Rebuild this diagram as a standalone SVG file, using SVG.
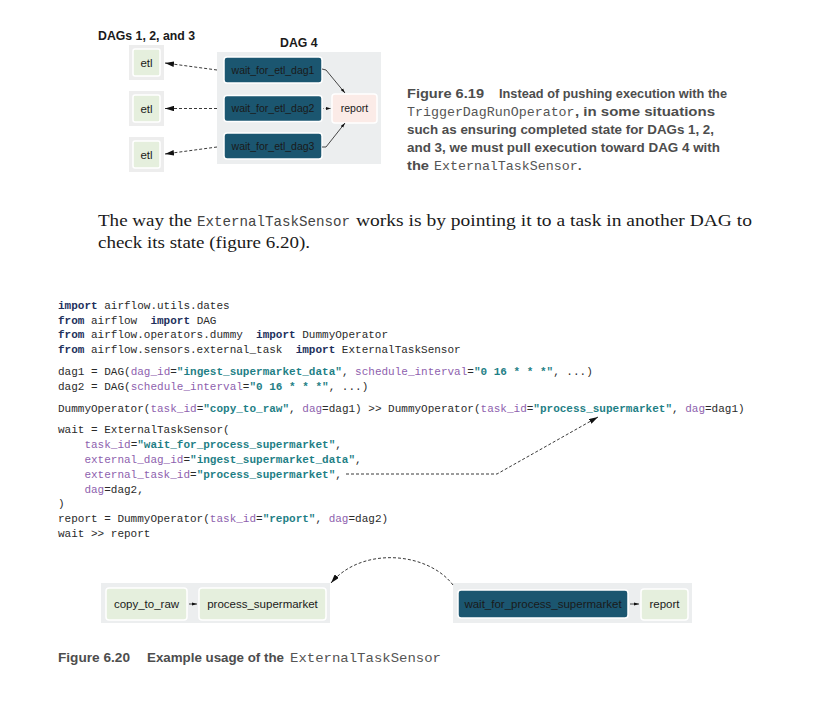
<svg xmlns="http://www.w3.org/2000/svg" width="821" height="710" viewBox="0 0 821 710">
<style>
.bg{fill:#ffffff}
.panel{fill:#eceeef}
.etlouter{fill:#ededed}
.green{fill:#e5efdd;stroke:#ffffff;stroke-width:1.5}
.dark{fill:#1b5670;stroke:#ffffff;stroke-width:1.5}
.pink{fill:#fbebe7;stroke:#ffffff;stroke-width:1.5}
.nt{font-family:"Liberation Sans",Arial,sans-serif;font-size:10.5px;fill:#1a1a1a;text-anchor:middle}
.ne{font-family:"Liberation Sans",Arial,sans-serif;font-size:11.5px;fill:#1a1a1a;text-anchor:middle}
.nb{font-family:"Liberation Sans",Arial,sans-serif;font-size:11.5px;fill:#1a1a1a;text-anchor:middle}
.hd{font-family:"Liberation Sans",Arial,sans-serif;font-size:12.3px;font-weight:bold;fill:#1a1a1a}
.cap{font-family:"Liberation Sans",Arial,sans-serif;font-size:12.5px;font-weight:bold;fill:#4d4d4d}
.capm{font-family:"Liberation Mono","Courier New",monospace;font-size:13.3px;fill:#555555}
.body{font-family:"Liberation Serif","Times New Roman",serif;font-size:16px;fill:#1a1a1a}
.bodym{font-family:"Liberation Mono","Courier New",monospace;font-size:14.4px;fill:#444444}
.code{font-family:"Liberation Mono","Courier New",monospace;font-size:11px;fill:#2a2a2a;white-space:pre}
.k{font-weight:bold;fill:#22305c}
.s{font-weight:bold;fill:#1f7f86}
.p{fill:#8e5fae}
.dash{fill:none;stroke:#222222;stroke-width:0.9;stroke-dasharray:3 2}
.solid{fill:none;stroke:#333333;stroke-width:0.9}
.dot{fill:none;stroke:#888888;stroke-width:0.9;stroke-dasharray:1 1.5}
</style>
<defs>
<marker id="ah" viewBox="0 0 10 6" refX="10" refY="3" markerWidth="9" markerHeight="5.4" markerUnits="userSpaceOnUse" orient="auto">
<path d="M0,0 L10,3 L0,6 z" fill="#111111"/>
</marker>
<marker id="ahs" viewBox="0 0 10 6" refX="10" refY="3" markerWidth="5" markerHeight="3.6" markerUnits="userSpaceOnUse" orient="auto">
<path d="M0,0 L10,3 L0,6 z" fill="#111111"/>
</marker>
</defs>
<rect class="bg" x="0" y="0" width="821" height="710"/>

<!-- Figure 6.19 -->
<text class="hd" x="98" y="39.5">DAGs 1, 2, and 3</text>
<text class="hd" x="280" y="47">DAG 4</text>

<g id="etl1"><rect class="etlouter" x="129" y="45" width="35" height="35"/><rect class="green" x="133" y="49" width="27" height="27" rx="2"/><text class="ne" x="146.5" y="66.5">etl</text></g>
<g id="etl2"><rect class="etlouter" x="129" y="91" width="35" height="35"/><rect class="green" x="133" y="95" width="27" height="27" rx="2"/><text class="ne" x="146.5" y="112.5">etl</text></g>
<g id="etl3"><rect class="etlouter" x="129" y="137" width="35" height="35"/><rect class="green" x="133" y="141" width="27" height="27" rx="2"/><text class="ne" x="146.5" y="158.5">etl</text></g>

<g id="dag4"><rect class="panel" x="217" y="52" width="164" height="112"/></g>
<g id="wait_for_etl_dag1"><rect class="dark" x="224" y="57" width="98" height="26" rx="3"/><text class="nt" x="273" y="73.8">wait_for_etl_dag1</text></g>
<g id="wait_for_etl_dag2"><rect class="dark" x="224" y="95.5" width="98" height="26" rx="3"/><text class="nt" x="273" y="112.3">wait_for_etl_dag2</text></g>
<g id="wait_for_etl_dag3"><rect class="dark" x="224" y="133" width="98" height="26" rx="3"/><text class="nt" x="273" y="149.8">wait_for_etl_dag3</text></g>
<g id="report4"><rect class="pink" x="332" y="94" width="45" height="29" rx="3"/><text class="nt" x="354.5" y="112">report</text></g>

<g id="caption619">
<text class="cap" x="407" y="97.5" textLength="77" lengthAdjust="spacingAndGlyphs">Figure 6.19</text>
<text class="cap" x="499" y="97.5" textLength="228" lengthAdjust="spacingAndGlyphs">Instead of pushing execution with the</text>
<text class="capm" x="407" y="115.5">TriggerDagRunOperator</text>
<text class="cap" x="575" y="115.5" textLength="140" lengthAdjust="spacingAndGlyphs">, in some situations</text>
<text class="cap" x="407" y="133.5" textLength="307" lengthAdjust="spacingAndGlyphs">such as ensuring completed state for DAGs 1, 2,</text>
<text class="cap" x="407" y="151.5" textLength="313" lengthAdjust="spacingAndGlyphs">and 3, we must pull execution toward DAG 4 with</text>
<text class="cap" x="407" y="169.5" textLength="22" lengthAdjust="spacingAndGlyphs">the</text>
<text class="capm" x="434" y="169.5">ExternalTaskSensor</text>
<text class="cap" x="578" y="169.5">.</text>
</g>

<!-- Body paragraph -->
<g id="paragraph">
<text class="body" x="98" y="226" textLength="94" lengthAdjust="spacingAndGlyphs">The way the</text>
<text class="bodym" x="197" y="226" textLength="153" lengthAdjust="spacingAndGlyphs">ExternalTaskSensor</text>
<text class="body" x="356" y="226" textLength="396" lengthAdjust="spacingAndGlyphs">works is by pointing it to a task in another DAG to</text>
<text class="body" x="98" y="248" textLength="212" lengthAdjust="spacingAndGlyphs">check its state (figure 6.20).</text>
</g>

<!-- Code -->
<g id="code" xml:space="preserve">
<text class="code" x="58" y="309"><tspan class="k">import</tspan> airflow.utils.dates</text>
<text class="code" x="58" y="324"><tspan class="k">from</tspan> airflow  <tspan class="k">import</tspan> DAG</text>
<text class="code" x="58" y="338"><tspan class="k">from</tspan> airflow.operators.dummy  <tspan class="k">import</tspan> DummyOperator</text>
<text class="code" x="58" y="353"><tspan class="k">from</tspan> airflow.sensors.external_task  <tspan class="k">import</tspan> ExternalTaskSensor</text>
<text class="code" x="58" y="375">dag1 = DAG(<tspan class="p">dag_id</tspan>=<tspan class="s">"ingest_supermarket_data"</tspan>, <tspan class="p">schedule_interval</tspan>=<tspan class="s">"0 16 * * *"</tspan>, ...)</text>
<text class="code" x="58" y="390">dag2 = DAG(<tspan class="p">schedule_interval</tspan>=<tspan class="s">"0 16 * * *"</tspan>, ...)</text>
<text class="code" x="58" y="411.5">DummyOperator(<tspan class="p">task_id</tspan>=<tspan class="s">"copy_to_raw"</tspan>, <tspan class="p">dag</tspan>=dag1) &gt;&gt; DummyOperator(<tspan class="p">task_id</tspan>=<tspan class="s">"process_supermarket"</tspan>, <tspan class="p">dag</tspan>=dag1)</text>
<text class="code" x="58" y="433">wait = ExternalTaskSensor(</text>
<text class="code" x="58" y="448">    <tspan class="p">task_id</tspan>=<tspan class="s">"wait_for_process_supermarket"</tspan>,</text>
<text class="code" x="58" y="463">    <tspan class="p">external_dag_id</tspan>=<tspan class="s">"ingest_supermarket_data"</tspan>,</text>
<text class="code" x="58" y="478">    <tspan class="p">external_task_id</tspan>=<tspan class="s">"process_supermarket"</tspan>,</text>
<text class="code" x="58" y="493">    <tspan class="p">dag</tspan>=dag2,</text>
<text class="code" x="58" y="507">)</text>
<text class="code" x="58" y="522">report = DummyOperator(<tspan class="p">task_id</tspan>=<tspan class="s">"report"</tspan>, <tspan class="p">dag</tspan>=dag2)</text>
<text class="code" x="58" y="537">wait &gt;&gt; report</text>
</g>

<!-- Figure 6.20 -->
<g id="left_panel"><rect class="panel" x="101" y="583" width="229" height="40"/></g>
<g id="copy_to_raw"><rect class="green" x="106" y="588" width="81" height="32" rx="3"/><text class="nb" x="146.5" y="608">copy_to_raw</text></g>
<g id="process_supermarket"><rect class="green" x="199" y="588" width="127" height="32" rx="3"/><text class="nb" x="262.5" y="608">process_supermarket</text></g>
<g id="right_panel"><rect class="panel" x="453" y="583" width="239" height="40"/></g>
<g id="wait_for_process_supermarket"><rect class="dark" x="458" y="590" width="170" height="28" rx="3"/><text class="nb" x="543" y="608">wait_for_process_supermarket</text></g>
<g id="report"><rect class="green" x="641" y="589" width="47" height="31" rx="3"/><text class="nb" x="664.5" y="608">report</text></g>

<g id="caption620">
<text class="cap" x="58" y="662" textLength="72" lengthAdjust="spacingAndGlyphs">Figure 6.20</text>
<text class="cap" x="147" y="662" textLength="137" lengthAdjust="spacingAndGlyphs">Example usage of the</text>
<text class="capm" x="290" y="662" textLength="151" lengthAdjust="spacingAndGlyphs">ExternalTaskSensor</text>
</g>

<!-- Connectors -->
<g id="connectors">
<path class="dash" d="M217,70 L165,63" marker-end="url(#ah)"/>
<path class="dash" d="M217,108.5 L165,108.5" marker-end="url(#ah)"/>
<path class="dash" d="M217,147 L165,154" marker-end="url(#ah)"/>
<path class="solid" d="M322,69 L326,70 L345,93" marker-end="url(#ahs)"/>
<path class="dot" d="M323,108.5 L331,108.5" marker-end="url(#ahs)"/>
<path class="solid" d="M322,147 L326,147 L345,123" marker-end="url(#ahs)"/>
<path class="dash" d="M346,474 L497,474 L598,417" marker-end="url(#ah)"/>
<path class="dash" d="M453,585 C428,552 362,546 331,583" marker-end="url(#ah)"/>
<path class="solid" d="M189,604 L197,604" marker-end="url(#ahs)"/>
<path class="solid" d="M630,604 L639,604" marker-end="url(#ahs)"/>
</g>
</svg>
